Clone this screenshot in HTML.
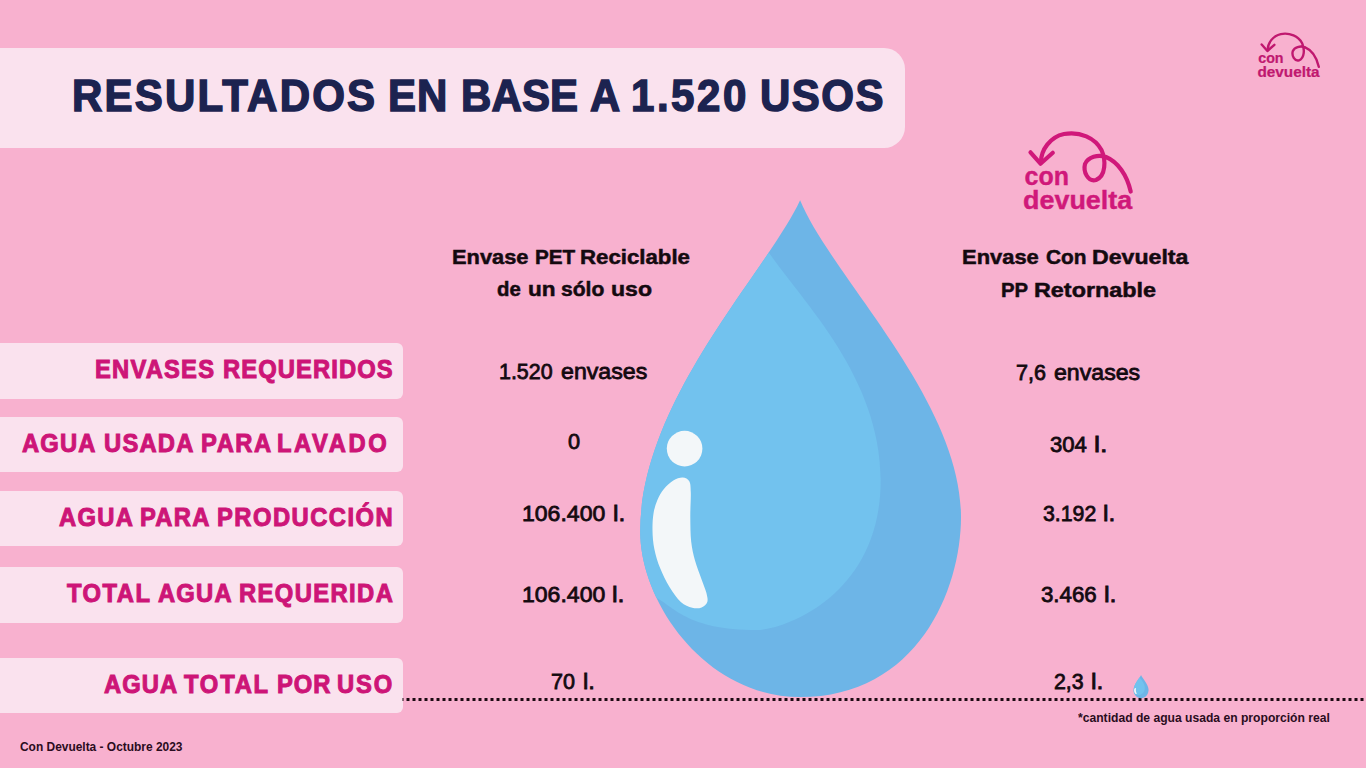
<!DOCTYPE html>
<html><head><meta charset="utf-8"><title>Resultados</title>
<style>
html,body{margin:0;padding:0}
body{width:1366px;height:768px;background:#f8b1cf;position:relative;overflow:hidden;font-family:"Liberation Sans",sans-serif}
.t{position:absolute;white-space:pre;line-height:1;transform-origin:0 0}
.box{position:absolute;left:0;width:402.5px;background:#fae2ee;border-radius:0 6px 6px 0}
#titlebox{position:absolute;left:0;top:48px;width:904.5px;height:100px;background:#fae2ee;border-radius:0 21px 21px 0}
svg{position:absolute;left:0;top:0}
svg text{font-family:"Liberation Sans",sans-serif;font-weight:bold;stroke:currentColor;stroke-width:0.4px}
</style></head><body>
<div id="titlebox"></div>
<div class="box" style="top:343.3px;height:55.5px"></div>
<div class="box" style="top:417.0px;height:55.19999999999999px"></div>
<div class="box" style="top:490.5px;height:55.5px"></div>
<div class="box" style="top:566.5px;height:56.5px"></div>
<div class="box" style="top:657.7px;height:55.299999999999955px"></div>
<svg width="1366" height="768" viewBox="0 0 1366 768">
<defs><clipPath id="dc"><path d="M800.1,200.3C831.6,276.4 961.0,399.7 961.0,516.9C961.0,590.0 917.2,697.0 800.0,697.0C705.9,697.0 640.2,603.1 640.2,531.6C640.2,400.4 766.4,272.5 800.1,200.3Z"/></clipPath></defs>
<line x1="402.5" y1="699.5" x2="1366" y2="699.5" stroke="#1c0a12" stroke-width="3" stroke-dasharray="3 3" stroke-dashoffset="2"/>
<path d="M800.1,200.3C831.6,276.4 961.0,399.7 961.0,516.9C961.0,590.0 917.2,697.0 800.0,697.0C705.9,697.0 640.2,603.1 640.2,531.6C640.2,400.4 766.4,272.5 800.1,200.3Z" fill="#6db5e7"/>
<path d="M767.5,250.5C799.3,298.3 880.7,375.6 880.7,480.0C880.7,598.1 780.8,630.1 757.1,630.1C685.9,630.1 673.6,605.9 654.0,596.5L630,600L630,240Z" fill="#72c2ee" clip-path="url(#dc)"/>
<circle cx="684.6" cy="448.6" r="17.8" fill="#f3f7f9"/>
<path d="M682.7,477.5C685.4,477.6 687.9,478.8 689.3,481.3 C690.6,483.8 690.6,486.6 690.8,492.6 C691.0,498.6 690.2,509.0 690.3,517.2 C690.4,525.4 690.4,534.5 691.2,541.7 C692.0,548.9 693.3,554.3 695.0,560.6 C696.7,566.9 699.7,574.1 701.6,579.4 C703.5,584.7 705.3,588.8 706.3,592.6 C707.2,596.4 708.1,599.5 707.3,602.0 C706.5,604.5 704.1,606.4 701.6,607.4 C699.1,608.4 695.7,608.6 692.2,607.7 C688.7,606.8 684.6,605.5 680.8,602.0 C677.0,598.5 673.0,592.6 669.5,587.0 C666.0,581.4 662.6,574.4 660.1,568.1 C657.6,561.8 655.7,555.5 654.4,549.2 C653.1,542.9 652.6,536.4 652.5,530.4 C652.4,524.4 652.7,518.4 653.5,513.4 C654.3,508.4 655.6,504.3 657.3,500.2 C659.0,496.1 661.2,492.2 663.9,488.9 C666.6,485.6 670.2,482.3 673.3,480.4 C676.4,478.5 680.0,477.4 682.7,477.5Z" fill="#f3f7f9"/>
<g transform="matrix(0.0469,0,0,0.0469,1103.5,665.5)">
<path d="M800.1,200.3C831.6,276.4 961.0,399.7 961.0,516.9C961.0,590.0 917.2,697.0 800.0,697.0C705.9,697.0 640.2,603.1 640.2,531.6C640.2,400.4 766.4,272.5 800.1,200.3Z" fill="#6db5e7"/><path d="M767.5,250.5C799.3,298.3 880.7,375.6 880.7,480.0C880.7,598.1 780.8,630.1 757.1,630.1C685.9,630.1 673.6,605.9 654.0,596.5L630,600L630,240Z" fill="#72c2ee" clip-path="url(#dc)"/><path d="M682.7,477.5C685.4,477.6 687.9,478.8 689.3,481.3 C690.6,483.8 690.6,486.6 690.8,492.6 C691.0,498.6 690.2,509.0 690.3,517.2 C690.4,525.4 690.4,534.5 691.2,541.7 C692.0,548.9 693.3,554.3 695.0,560.6 C696.7,566.9 699.7,574.1 701.6,579.4 C703.5,584.7 705.3,588.8 706.3,592.6 C707.2,596.4 708.1,599.5 707.3,602.0 C706.5,604.5 704.1,606.4 701.6,607.4 C699.1,608.4 695.7,608.6 692.2,607.7 C688.7,606.8 684.6,605.5 680.8,602.0 C677.0,598.5 673.0,592.6 669.5,587.0 C666.0,581.4 662.6,574.4 660.1,568.1 C657.6,561.8 655.7,555.5 654.4,549.2 C653.1,542.9 652.6,536.4 652.5,530.4 C652.4,524.4 652.7,518.4 653.5,513.4 C654.3,508.4 655.6,504.3 657.3,500.2 C659.0,496.1 661.2,492.2 663.9,488.9 C666.6,485.6 670.2,482.3 673.3,480.4 C676.4,478.5 680.0,477.4 682.7,477.5Z" fill="#f3f7f9"/>
</g>
<g style="color:#d0187a">
<path d="M1030.5,152.3 L1040.5,163.7 L1052.8,152.8" fill="none" stroke="currentColor" stroke-width="4.2" stroke-linecap="round" stroke-linejoin="round"/>
<path d="M1041,162 C1041,150 1050,137 1064,134 C1080,131 1095,138 1101.5,150 C1106,160 1106,176 1096,180 C1088,182 1083,172 1085,164 C1088,157 1098,154 1106,157 C1118,162 1127,175 1130.7,191.5" fill="none" stroke="currentColor" stroke-width="4.2" stroke-linecap="round"/>
<text x="1024.5" y="184.7" font-size="26" textLength="44.4" lengthAdjust="spacingAndGlyphs" fill="currentColor">con</text>
<text x="1023.1" y="208.5" font-size="25.5" textLength="109.1" lengthAdjust="spacingAndGlyphs" fill="currentColor">devuelta</text>

</g>
<g transform="matrix(0.57,0,0,0.57,674.3,-42.3)" style="color:#c0186f">
<path d="M1030.5,152.3 L1040.5,163.7 L1052.8,152.8" fill="none" stroke="currentColor" stroke-width="4.2" stroke-linecap="round" stroke-linejoin="round"/>
<path d="M1041,162 C1041,150 1050,137 1064,134 C1080,131 1095,138 1101.5,150 C1106,160 1106,176 1096,180 C1088,182 1083,172 1085,164 C1088,157 1098,154 1106,157 C1118,162 1127,175 1130.7,191.5" fill="none" stroke="currentColor" stroke-width="4.2" stroke-linecap="round"/>
<text x="1024.5" y="184.7" font-size="26" textLength="44.4" lengthAdjust="spacingAndGlyphs" fill="currentColor">con</text>
<text x="1023.1" y="208.5" font-size="25.5" textLength="109.1" lengthAdjust="spacingAndGlyphs" fill="currentColor">devuelta</text>

</g>
</svg>
<div class="t" style="left:72.44px;top:72.7px;font-size:45.2px;font-weight:bold;color:#1c2350;transform:scaleX(0.93);-webkit-text-stroke:1.5px #1c2350;letter-spacing:2.369px">RESULTADOS</div>
<div class="t" style="left:388.24px;top:72.7px;font-size:45.2px;font-weight:bold;color:#1c2350;transform:scaleX(0.93);-webkit-text-stroke:1.5px #1c2350;letter-spacing:1.0px">EN</div>
<div class="t" style="left:461.14px;top:72.7px;font-size:45.2px;font-weight:bold;color:#1c2350;transform:scaleX(0.93);-webkit-text-stroke:1.5px #1c2350;letter-spacing:0.129px">BASE</div>
<div class="t" style="left:590.4px;top:72.7px;font-size:45.2px;font-weight:bold;color:#1c2350;transform:scaleX(0.925);-webkit-text-stroke:1.5px #1c2350;letter-spacing:0px">A</div>
<div class="t" style="left:630.64px;top:72.7px;font-size:45.2px;font-weight:bold;color:#1c2350;transform:scaleX(0.93);-webkit-text-stroke:1.5px #1c2350;letter-spacing:2.726px">1.520</div>
<div class="t" style="left:759.54px;top:72.7px;font-size:45.2px;font-weight:bold;color:#1c2350;transform:scaleX(0.93);-webkit-text-stroke:1.5px #1c2350;letter-spacing:1.559px">USOS</div>
<div class="t" style="left:451.74px;top:246.8px;font-size:20.6px;font-weight:bold;color:#140a10;transform:scaleX(1.0606);-webkit-text-stroke:0.5px #140a10;letter-spacing:0px">Envase</div>
<div class="t" style="left:535.49px;top:246.8px;font-size:20.6px;font-weight:bold;color:#140a10;transform:scaleX(1.0051);-webkit-text-stroke:0.5px #140a10;letter-spacing:0px">PET</div>
<div class="t" style="left:579.82px;top:246.8px;font-size:20.6px;font-weight:bold;color:#140a10;transform:scaleX(1.0792);-webkit-text-stroke:0.5px #140a10;letter-spacing:0px">Reciclable</div>
<div class="t" style="left:496.9px;top:279.4px;font-size:20.6px;font-weight:bold;color:#140a10;transform:scaleX(0.9875);-webkit-text-stroke:0.5px #140a10;letter-spacing:0px">de</div>
<div class="t" style="left:527.9px;top:279.4px;font-size:20.6px;font-weight:bold;color:#140a10;transform:scaleX(1.0957);-webkit-text-stroke:0.5px #140a10;letter-spacing:0px">un</div>
<div class="t" style="left:560.7px;top:279.4px;font-size:20.6px;font-weight:bold;color:#140a10;transform:scaleX(1.0238);-webkit-text-stroke:0.5px #140a10;letter-spacing:0px">sólo</div>
<div class="t" style="left:610.98px;top:279.4px;font-size:20.6px;font-weight:bold;color:#140a10;transform:scaleX(1.12);-webkit-text-stroke:0.5px #140a10;letter-spacing:0px">uso</div>
<div class="t" style="left:962.34px;top:246.65px;font-size:20.6px;font-weight:bold;color:#140a10;transform:scaleX(1.0648);-webkit-text-stroke:0.5px #140a10;letter-spacing:0px">Envase</div>
<div class="t" style="left:1045.5px;top:246.65px;font-size:20.6px;font-weight:bold;color:#140a10;transform:scaleX(1.0128);-webkit-text-stroke:0.5px #140a10;letter-spacing:0px">Con</div>
<div class="t" style="left:1091.78px;top:246.65px;font-size:20.6px;font-weight:bold;color:#140a10;transform:scaleX(1.1233);-webkit-text-stroke:0.5px #140a10;letter-spacing:0px">Devuelta</div>
<div class="t" style="left:1001.11px;top:279.5px;font-size:20.6px;font-weight:bold;color:#140a10;transform:scaleX(0.9885);-webkit-text-stroke:0.5px #140a10;letter-spacing:0px">PP</div>
<div class="t" style="left:1033.97px;top:279.5px;font-size:20.6px;font-weight:bold;color:#140a10;transform:scaleX(1.134);-webkit-text-stroke:0.5px #140a10;letter-spacing:0px">Retornable</div>
<div class="t" style="left:95.45px;top:357.2px;font-size:25.0px;font-weight:bold;color:#cd1577;transform:scaleX(0.95);-webkit-text-stroke:1.0px #cd1577;letter-spacing:1.272px">ENVASES</div>
<div class="t" style="left:222.95px;top:357.2px;font-size:25.0px;font-weight:bold;color:#cd1577;transform:scaleX(0.95);-webkit-text-stroke:1.0px #cd1577;letter-spacing:1.158px">REQUERIDOS</div>
<div class="t" style="left:22.0px;top:431.0px;font-size:25.0px;font-weight:bold;color:#cd1577;transform:scaleX(0.95);-webkit-text-stroke:1.0px #cd1577;letter-spacing:1.246px">AGUA</div>
<div class="t" style="left:103.65px;top:431.0px;font-size:25.0px;font-weight:bold;color:#cd1577;transform:scaleX(0.95);-webkit-text-stroke:1.0px #cd1577;letter-spacing:1.289px">USADA</div>
<div class="t" style="left:200.95px;top:431.0px;font-size:25.0px;font-weight:bold;color:#cd1577;transform:scaleX(0.95);-webkit-text-stroke:1.0px #cd1577;letter-spacing:1.632px">PARA</div>
<div class="t" style="left:276.95px;top:431.0px;font-size:25.0px;font-weight:bold;color:#cd1577;transform:scaleX(0.95);-webkit-text-stroke:1.0px #cd1577;letter-spacing:2.737px">LAVADO</div>
<div class="t" style="left:59.0px;top:505.25px;font-size:25.0px;font-weight:bold;color:#cd1577;transform:scaleX(0.95);-webkit-text-stroke:1.0px #cd1577;letter-spacing:1.368px">AGUA</div>
<div class="t" style="left:140.05px;top:505.25px;font-size:25.0px;font-weight:bold;color:#cd1577;transform:scaleX(0.95);-webkit-text-stroke:1.0px #cd1577;letter-spacing:1.333px">PARA</div>
<div class="t" style="left:216.85px;top:505.25px;font-size:25.0px;font-weight:bold;color:#cd1577;transform:scaleX(0.95);-webkit-text-stroke:1.0px #cd1577;letter-spacing:1.567px">PRODUCCIÓN</div>
<div class="t" style="left:67.0px;top:580.85px;font-size:25.0px;font-weight:bold;color:#cd1577;transform:scaleX(0.95);-webkit-text-stroke:1.0px #cd1577;letter-spacing:1.605px">TOTAL</div>
<div class="t" style="left:158.3px;top:580.85px;font-size:25.0px;font-weight:bold;color:#cd1577;transform:scaleX(0.95);-webkit-text-stroke:1.0px #cd1577;letter-spacing:1.263px">AGUA</div>
<div class="t" style="left:238.75px;top:580.85px;font-size:25.0px;font-weight:bold;color:#cd1577;transform:scaleX(0.95);-webkit-text-stroke:1.0px #cd1577;letter-spacing:1.487px">REQUERIDA</div>
<div class="t" style="left:103.9px;top:672.3px;font-size:25.0px;font-weight:bold;color:#cd1577;transform:scaleX(0.95);-webkit-text-stroke:1.0px #cd1577;letter-spacing:1.158px">AGUA</div>
<div class="t" style="left:184.3px;top:672.3px;font-size:25.0px;font-weight:bold;color:#cd1577;transform:scaleX(0.95);-webkit-text-stroke:1.0px #cd1577;letter-spacing:1.882px">TOTAL</div>
<div class="t" style="left:276.65px;top:672.3px;font-size:25.0px;font-weight:bold;color:#cd1577;transform:scaleX(0.95);-webkit-text-stroke:1.0px #cd1577;letter-spacing:1.079px">POR</div>
<div class="t" style="left:337.45px;top:672.3px;font-size:25.0px;font-weight:bold;color:#cd1577;transform:scaleX(0.95);-webkit-text-stroke:1.0px #cd1577;letter-spacing:1.921px">USO</div>
<div class="t" style="left:499.04px;top:361.3px;font-size:22.3px;font-weight:normal;color:#140a10;transform:scaleX(0.96);-webkit-text-stroke:0.8px #140a10;letter-spacing:0px">1.520</div>
<div class="t" style="left:560.9px;top:361.3px;font-size:22.3px;font-weight:normal;color:#140a10;transform:scaleX(1.0386);-webkit-text-stroke:0.8px #140a10;letter-spacing:0px">envases</div>
<div class="t" style="left:568.0px;top:431.2px;font-size:22.3px;font-weight:normal;color:#140a10;transform:scaleX(0.975);-webkit-text-stroke:0.8px #140a10;letter-spacing:0px">0</div>
<div class="t" style="left:522.17px;top:503.4px;font-size:22.3px;font-weight:normal;color:#140a10;transform:scaleX(1.0329);-webkit-text-stroke:0.8px #140a10;letter-spacing:0px">106.400</div>
<div class="t" style="left:613.1px;top:503.4px;font-size:22.3px;font-weight:normal;color:#140a10;transform:scaleX(1.1);-webkit-text-stroke:0.8px #140a10;letter-spacing:0px">l.</div>
<div class="t" style="left:522.17px;top:584.45px;font-size:22.3px;font-weight:normal;color:#140a10;transform:scaleX(1.0329);-webkit-text-stroke:0.8px #140a10;letter-spacing:0px">106.400</div>
<div class="t" style="left:612.48px;top:584.45px;font-size:22.3px;font-weight:normal;color:#140a10;transform:scaleX(1.1222);-webkit-text-stroke:0.8px #140a10;letter-spacing:0px">l.</div>
<div class="t" style="left:551.03px;top:671.05px;font-size:22.3px;font-weight:normal;color:#140a10;transform:scaleX(0.9667);-webkit-text-stroke:0.8px #140a10;letter-spacing:0px">70</div>
<div class="t" style="left:583.43px;top:671.05px;font-size:22.3px;font-weight:normal;color:#140a10;transform:scaleX(1.0667);-webkit-text-stroke:0.8px #140a10;letter-spacing:0px">l.</div>
<div class="t" style="left:1015.83px;top:361.6px;font-size:22.3px;font-weight:normal;color:#140a10;transform:scaleX(0.9667);-webkit-text-stroke:0.8px #140a10;letter-spacing:0px">7,6</div>
<div class="t" style="left:1053.5px;top:361.6px;font-size:22.3px;font-weight:normal;color:#140a10;transform:scaleX(1.0373);-webkit-text-stroke:0.8px #140a10;letter-spacing:0px">envases</div>
<div class="t" style="left:1049.9px;top:434.1px;font-size:22.3px;font-weight:normal;color:#140a10;transform:scaleX(0.9919);-webkit-text-stroke:0.8px #140a10;letter-spacing:0px">304</div>
<div class="t" style="left:1094.29px;top:434.1px;font-size:22.3px;font-weight:normal;color:#140a10;transform:scaleX(1.2111);-webkit-text-stroke:0.8px #140a10;letter-spacing:0px">l.</div>
<div class="t" style="left:1042.6px;top:503.15px;font-size:22.3px;font-weight:normal;color:#140a10;transform:scaleX(0.9545);-webkit-text-stroke:0.8px #140a10;letter-spacing:0px">3.192</div>
<div class="t" style="left:1102.7px;top:503.15px;font-size:22.3px;font-weight:normal;color:#140a10;transform:scaleX(1.1);-webkit-text-stroke:0.8px #140a10;letter-spacing:0px">l.</div>
<div class="t" style="left:1040.9px;top:584.3px;font-size:22.3px;font-weight:normal;color:#140a10;transform:scaleX(1.0);-webkit-text-stroke:0.8px #140a10;letter-spacing:0px">3.466</div>
<div class="t" style="left:1104.07px;top:584.3px;font-size:22.3px;font-weight:normal;color:#140a10;transform:scaleX(1.1333);-webkit-text-stroke:0.8px #140a10;letter-spacing:0px">l.</div>
<div class="t" style="left:1053.54px;top:671.1px;font-size:22.3px;font-weight:normal;color:#140a10;transform:scaleX(0.9567);-webkit-text-stroke:0.8px #140a10;letter-spacing:0px">2,3</div>
<div class="t" style="left:1090.79px;top:671.1px;font-size:22.3px;font-weight:normal;color:#140a10;transform:scaleX(1.1111);-webkit-text-stroke:0.8px #140a10;letter-spacing:0px">l.</div>
<div class="t" style="left:20.3px;top:741.15px;font-size:12.9px;font-weight:bold;color:#2a0c20;transform:scaleX(0.9257);-webkit-text-stroke:0px #2a0c20;letter-spacing:0px">Con Devuelta - Octubre 2023</div>
<div class="t" style="left:1077.5px;top:711.85px;font-size:12.9px;font-weight:bold;color:#2a0c20;transform:scaleX(0.9401);-webkit-text-stroke:0px #2a0c20;letter-spacing:0px">*cantidad de agua usada en proporción real</div>
</body></html>
